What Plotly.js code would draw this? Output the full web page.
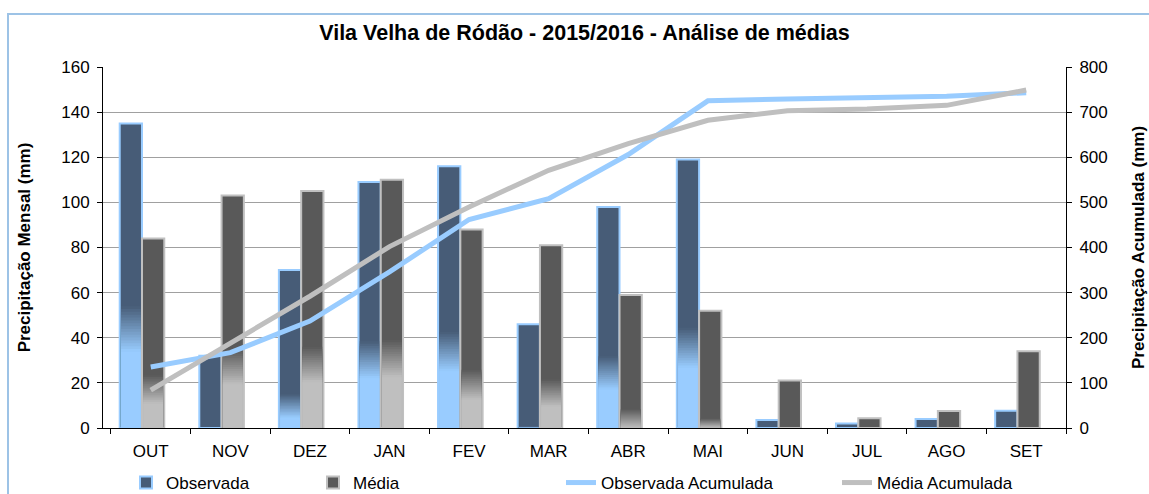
<!DOCTYPE html>
<html>
<head>
<meta charset="utf-8">
<script src="https://cdn.plot.ly/plotly-3.0.1.min.js"></script>
<style>
  html, body { margin: 0; padding: 0; background: #ffffff; }
  #wrap { position: relative; width: 1149px; height: 494px; overflow: hidden; }
  #frame { position: absolute; left: 7px; top: 13px; width: 1200px; height: 600px;
           border: 2.5px solid #9DC3E6; box-sizing: border-box; }
  #chart { position: absolute; left: 0; top: 0; width: 1149px; height: 494px; }
</style>
</head>
<body>
<div id="wrap">
  <div id="frame"></div>
  <div id="chart"></div>
</div>
<script>
// ---- data ----
const categories = ['OUT', 'NOV', 'DEZ', 'JAN', 'FEV', 'MAR', 'ABR', 'MAI', 'JUN', 'JUL', 'AGO', 'SET'];
const observada = [135, 32, 70, 109, 116, 46, 98, 119, 3.6, 2, 4, 7.6];
const media = [84, 103, 105, 110, 88, 81, 59, 52, 21, 4.3, 7.5, 34];
const observadaAcumulada = [135, 167, 237, 346, 462, 508, 606, 725, 729, 731, 735, 743];
const mediaAcumulada = [84, 187, 292, 402, 490, 571, 630, 682, 703, 707, 715, 749];
const seriesNames = ['Observada', 'Média', 'Observada Acumulada', 'Média Acumulada'];
const chartTitle = 'Vila Velha de Ródão - 2015/2016 - Análise de médias';
const yTitleLeft = 'Precipitação Mensal (mm)';
const yTitleRight = 'Precipitação Acumulada (mm)';

// ---- style ----
const FONT = 'Liberation Sans, Arial, sans-serif';
const STEPS = 16;
function hexToRgb(h) { h = h.replace('#', ''); return [0, 2, 4].map(i => parseInt(h.substr(i, 2), 16)); }
function mix(a, b, t) {
  const A = hexToRgb(a), B = hexToRgb(b);
  return 'rgb(' + A.map((v, i) => Math.round(v + (B[i] - v) * t)).join(',') + ')';
}
// gradient band (dark above "top", light below "bot"), as a function of bar height
function gradTop(v) { return Math.max(0, Math.min(v, 0.6 * (v - 45))); }
function gradBot(v) { return Math.max(0, Math.min(v, 0.45 * (v - 60))); }

function gradientBars(values, name, dark, light, outline, offset, width, legendId) {
  const traces = [];
  traces.push({
    type: 'bar', x: categories, y: values, name: name, legend: legendId,
    offset: offset, width: width,
    marker: { color: dark, line: { color: outline, width: 2 } },
    hoverinfo: 'x+y'
  });
  const inset = 0.016;
  for (let k = 0; k <= STEPS; k++) {
    const hs = values.map(v => {
      const t = gradTop(v), b = gradBot(v);
      if (t <= 0) return 0;
      return Math.max(0, t - (k / STEPS) * (t - b));
    });
    const col = k < STEPS ? mix(dark, light, (k + 0.5) / STEPS) : light;
    traces.push({
      type: 'bar', x: categories, y: hs, showlegend: false, hoverinfo: 'skip',
      offset: offset + inset, width: width - 2 * inset,
      marker: { color: col, line: { width: 0 } }
    });
  }
  return traces;
}

const data = [].concat(
  gradientBars(observada, seriesNames[0], '#475C77', '#99CCFF', '#99CCFF', -0.39, 0.28, 'legend'),
  gradientBars(media, seriesNames[1], '#595959', '#BFBFBF', '#C0C0C0', -0.11, 0.28, 'legend2'),
  [
    { type: 'scatter', mode: 'lines', x: categories, y: observadaAcumulada, yaxis: 'y2',
      name: seriesNames[2], legend: 'legend3', line: { color: '#99CCFF', width: 5 } },
    { type: 'scatter', mode: 'lines', x: categories, y: mediaAcumulada, yaxis: 'y2',
      name: seriesNames[3], legend: 'legend4', line: { color: '#BFBFBF', width: 5 } }
  ]
);

const L = 103, R = 1066, T = 67, B = 428;
const pw = R - L, ph = B - T;
function px2x(p) { return (p - L) / pw; }
function px2y(p) { return (B - p) / ph; }

function legendAt(xpx) {
  return {
    x: px2x(xpx), y: px2y(483), xref: 'paper', yref: 'paper',
    xanchor: 'left', yanchor: 'middle', orientation: 'h',
    bgcolor: 'rgba(0,0,0,0)', borderwidth: 0,
    font: { family: FONT, size: 17, color: '#000' }
  };
}

const layout = {
  width: 1149, height: 494,
  margin: { l: L, r: 1149 - R, t: T, b: 494 - B, pad: 0, autoexpand: false },
  paper_bgcolor: 'rgba(0,0,0,0)', plot_bgcolor: 'rgba(0,0,0,0)',
  barmode: 'overlay',
  font: { family: FONT, size: 17, color: '#000' },
  title: {
    text: chartTitle, x: 0.5, xref: 'paper', xanchor: 'center',
    y: 1 - 32 / 494, yref: 'container', yanchor: 'middle',
    font: { family: FONT, size: 21.5, color: '#000', weight: 'bold' }
  },
  xaxis: {
    type: 'category', range: [-0.6, 11.5], fixedrange: true, automargin: false,
    showline: true, linecolor: '#000', linewidth: 1,
    ticks: 'outside', tickson: 'boundaries', ticklen: 5, tickcolor: '#000',
    ticklabelstandoff: 8, showgrid: false, zeroline: false,
    tickfont: { family: FONT, size: 17, color: '#000' }
  },
  yaxis: {
    range: [0, 160], dtick: 20, fixedrange: true, automargin: false,
    showline: true, linecolor: '#000', linewidth: 1,
    ticks: 'outside', ticklen: 5, tickcolor: '#000',
    showgrid: true, gridcolor: '#A0A0A0', gridwidth: 1, zeroline: false,
    tickfont: { family: FONT, size: 17, color: '#000' },
    ticklabelstandoff: 4,
    title: { text: yTitleLeft, standoff: 26, font: { family: FONT, size: 17, color: '#000', weight: 'bold' } }
  },
  yaxis2: {
    range: [0, 800], dtick: 100, overlaying: 'y', side: 'right', fixedrange: true, automargin: false,
    showline: true, linecolor: '#000', linewidth: 1,
    ticks: 'outside', ticklen: 5, tickcolor: '#000',
    showgrid: false, zeroline: false,
    tickfont: { family: FONT, size: 17, color: '#000' },
    ticklabelstandoff: 4,
    title: { text: yTitleRight, standoff: 25, font: { family: FONT, size: 17, color: '#000', weight: 'bold' } }
  },
  legend: legendAt(126),
  legend2: legendAt(313),
  legend3: legendAt(561),
  legend4: legendAt(837),
  showlegend: true
};

Plotly.newPlot('chart', data, layout, { displayModeBar: false, staticPlot: true });
</script>
</body>
</html>
